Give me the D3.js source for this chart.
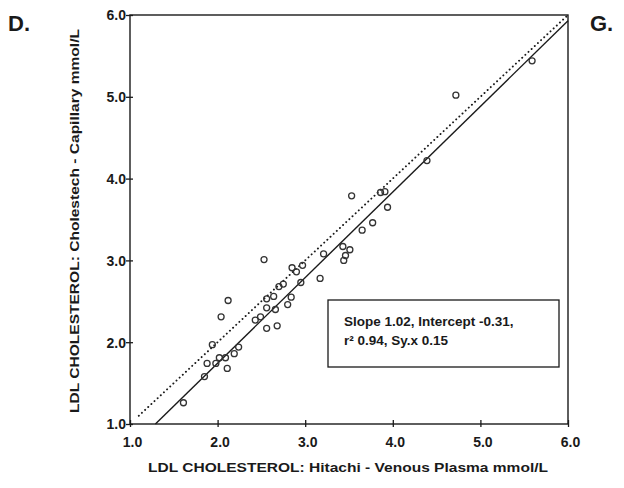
<!DOCTYPE html>
<html><head><meta charset="utf-8">
<script src="https://cdn.jsdelivr.net/npm/d3@7"></script>
<style>body{margin:0;background:#fff}svg{display:block}text{font-family:"Liberation Sans",Arial,sans-serif;font-weight:bold;fill:#1a1a1a}</style>
</head><body>
<script>
// Data
const hitachi = [5.59,4.72,4.39,3.86,3.91,3.53,3.94,3.77,3.65,3.43,3.51,3.46,3.44,3.21,3.17,2.85,2.90,2.97,2.95,2.53,2.75,2.70,2.84,2.80,2.64,2.56,2.56,2.66,2.68,2.56,2.49,2.43,2.12,2.04,1.94,1.88,1.98,2.02,2.09,2.11,2.19,2.24,1.85,1.61];
const cholestech = [5.44,5.02,4.22,3.83,3.84,3.79,3.65,3.46,3.37,3.17,3.13,3.06,3.00,3.08,2.78,2.91,2.86,2.94,2.73,3.01,2.71,2.68,2.55,2.46,2.56,2.53,2.42,2.40,2.20,2.17,2.31,2.27,2.51,2.31,1.97,1.74,1.74,1.81,1.81,1.68,1.86,1.94,1.58,1.26];
const tickValues = [1,2,3,4,5,6];
const tickLabels = ["1.0","2.0","3.0","4.0","5.0","6.0"];
const fitLineX = [1.29, 6.0];
const fitLineY = [1.0, 5.93];
const identityX = [1.1, 6.0];
const identityY = [1.1, 6.0];
const statsLines = ["Slope 1.02, Intercept -0.31,", "r\u00B2 0.94, Sy.x 0.15"];
const xTitle = "LDL CHOLESTEROL: Hitachi - Venous Plasma mmol/L";
const yTitle = "LDL CHOLESTEROL: Cholestech - Capillary mmol/L";

const W = 624, H = 488;
const svg = d3.select("body").append("svg").attr("width", W).attr("height", H);
const x = d3.scaleLinear().domain([1, 6]).range([130, 568]);
const y = d3.scaleLinear().domain([1, 6]).range([424, 15]);
const ink = "#1a1a1a";

// frame
svg.append("rect").attr("x", x(1)).attr("y", y(6)).attr("width", x(6) - x(1)).attr("height", y(1) - y(6))
  .attr("fill", "none").attr("stroke", ink).attr("stroke-width", 1.4);

// x axis
const xAxis = d3.axisBottom(x).tickValues(tickValues).tickSize(0).tickFormat((d, i) => tickLabels[i]);
const gx = svg.append("g").attr("transform", `translate(0,${y(1)})`).call(xAxis);
gx.select(".domain").remove();
gx.selectAll("text").attr("dy", null).attr("y", 23).attr("dx", 2).style("font-size", "14px");
gx.selectAll(".tick").append("line").attr("y1", -4).attr("y2", 3).attr("stroke", ink).attr("stroke-width", 1.3);

// y axis
const yAxis = d3.axisLeft(y).tickValues(tickValues).tickSize(0).tickFormat((d, i) => tickLabels[i]);
const gy = svg.append("g").attr("transform", `translate(${x(1)},0)`).call(yAxis);
gy.select(".domain").remove();
gy.selectAll("text").attr("x", -4).attr("dy", "0.35em").style("font-size", "14px");
gy.selectAll(".tick").append("line").attr("x1", -4).attr("x2", 3).attr("stroke", ink).attr("stroke-width", 1.3);

// lines
const line = d3.line().x(d => x(d[0])).y(d => y(d[1]));
svg.append("path").datum(identityX.map((v, i) => [v, identityY[i]])).attr("d", line)
  .attr("fill", "none").attr("stroke", ink).attr("stroke-width", 1.9)
  .attr("stroke-dasharray", "0.1,4.2").attr("stroke-linecap", "round");
svg.append("path").datum(fitLineX.map((v, i) => [v, fitLineY[i]])).attr("d", line)
  .attr("fill", "none").attr("stroke", ink).attr("stroke-width", 1.4);

// points
svg.append("g").selectAll("circle").data(hitachi.map((v, i) => [v, cholestech[i]])).join("circle")
  .attr("cx", d => x(d[0])).attr("cy", d => y(d[1])).attr("r", 3)
  .attr("fill", "none").attr("stroke", "#333").attr("stroke-width", 1.3);

// stats box
svg.append("rect").attr("x", 328).attr("y", 300).attr("width", 231).attr("height", 67)
  .attr("fill", "#fff").attr("stroke", ink).attr("stroke-width", 1.3);
svg.append("g").selectAll("text").data(statsLines).join("text")
  .attr("x", 344).attr("y", (d, i) => 326 + i * 19).style("font-size", "13.5px").text(d => d);

// titles
svg.append("text").attr("x", 348).attr("y", 472).attr("text-anchor", "middle")
  .style("font-size", "13px").attr("textLength", 400).attr("lengthAdjust", "spacingAndGlyphs").text(xTitle);
svg.append("text").attr("transform", "translate(79,221) rotate(-90)").attr("text-anchor", "middle")
  .style("font-size", "13px").attr("textLength", 384).attr("lengthAdjust", "spacingAndGlyphs").text(yTitle);

// panel letters
svg.append("text").attr("x", 8).attr("y", 31).style("font-size", "22px").text("D.");
svg.append("text").attr("x", 590).attr("y", 31).style("font-size", "22px").text("G.");
</script>
</body></html>
